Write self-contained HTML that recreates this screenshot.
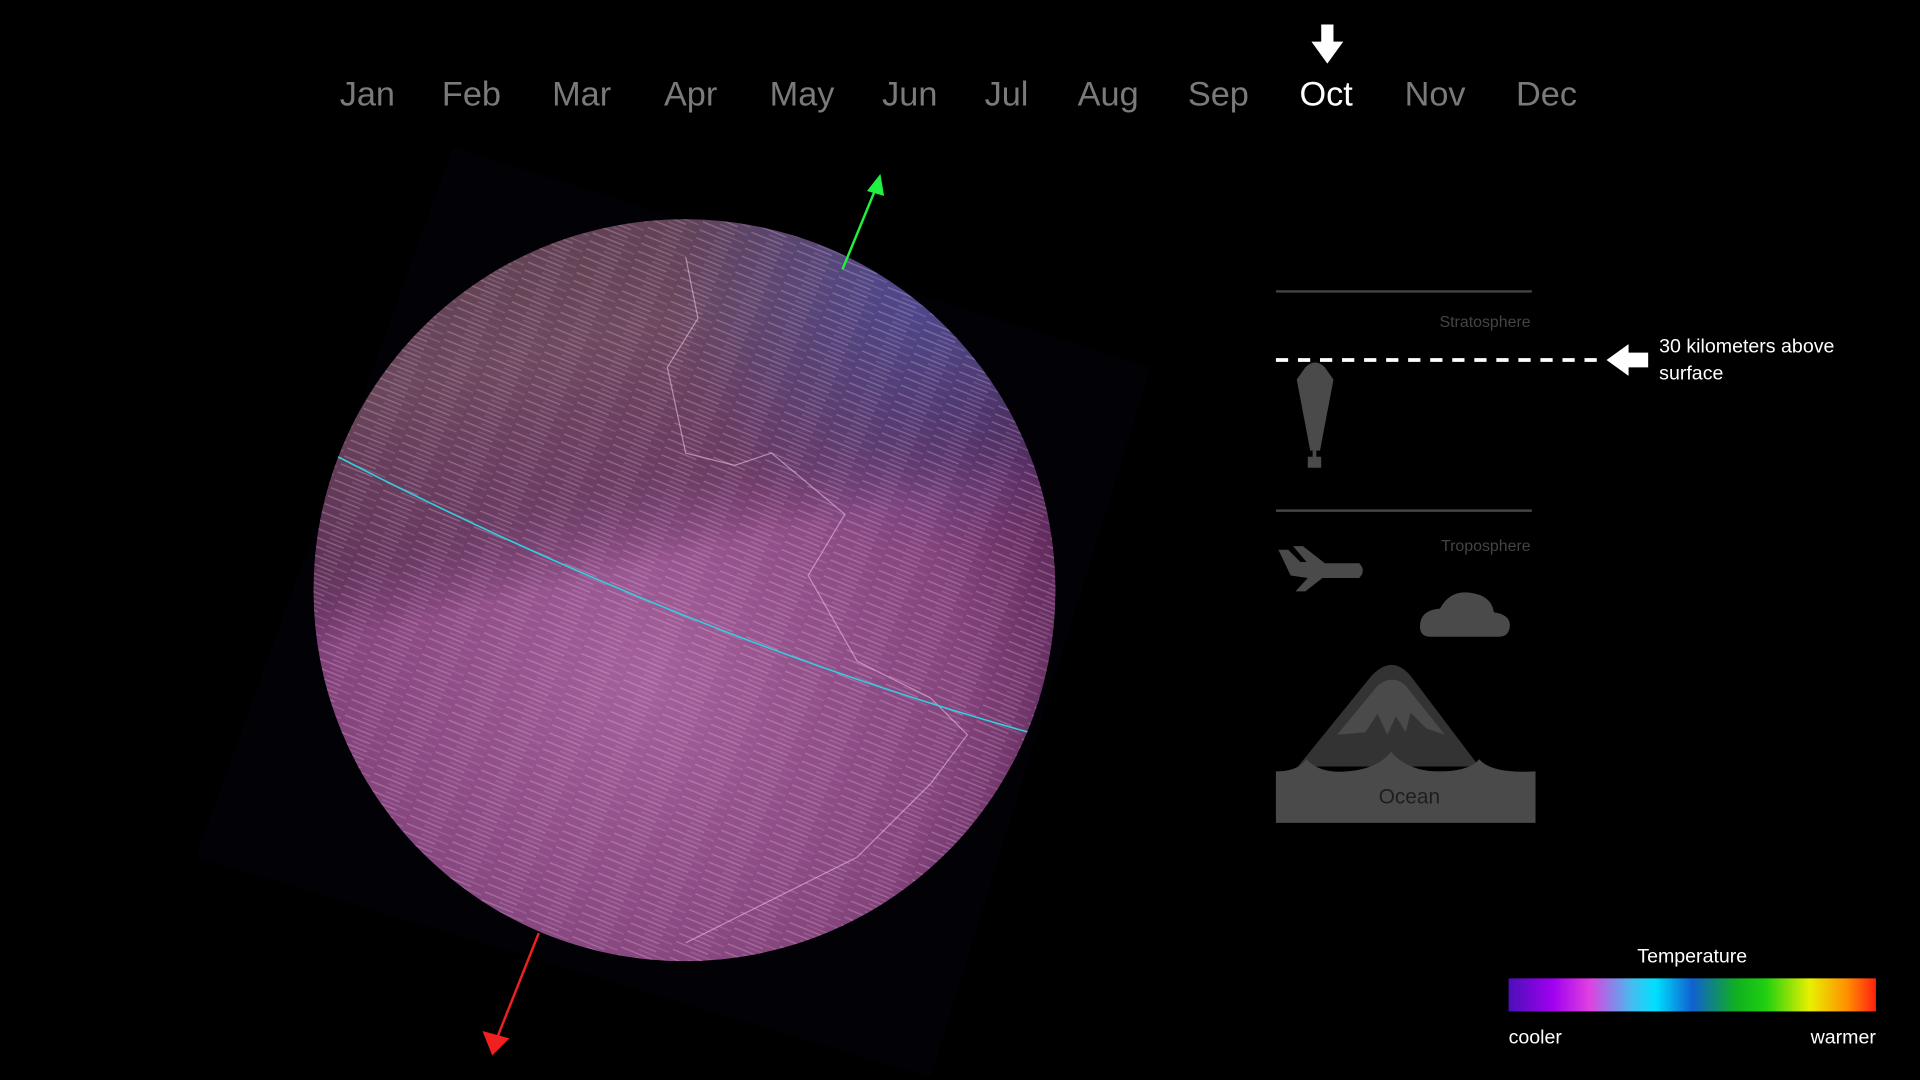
<!DOCTYPE html>
<html><head><meta charset="utf-8"><style>
html,body{margin:0;padding:0;background:#000;width:1920px;height:1080px;overflow:hidden}
svg{display:block}
text{font-family:"Liberation Sans",sans-serif}
</style></head><body>
<svg width="1920" height="1080" viewBox="0 0 1568 882" xmlns="http://www.w3.org/2000/svg">
<defs>
<radialGradient id="gb" cx="0.45" cy="0.62" r="0.6">
<stop offset="0" stop-color="#a5619c"/><stop offset="0.7" stop-color="#84447c"/><stop offset="1" stop-color="#5c2858"/>
</radialGradient>
<linearGradient id="band" x1="0" y1="0" x2="0.25" y2="1">
<stop offset="0" stop-color="#5e4650" stop-opacity="0.8"/>
<stop offset="0.25" stop-color="#6a5056" stop-opacity="0.7"/>
<stop offset="0.42" stop-color="#4a3040" stop-opacity="0.5"/>
<stop offset="0.55" stop-color="#000" stop-opacity="0"/>
<stop offset="1" stop-color="#000" stop-opacity="0"/>
</linearGradient>
<radialGradient id="blue" cx="0.82" cy="0.1" r="0.35">
<stop offset="0" stop-color="#4a4a98" stop-opacity="0.9"/><stop offset="1" stop-color="#4a4a98" stop-opacity="0"/>
</radialGradient>
<pattern id="streak" width="40" height="7" patternUnits="userSpaceOnUse" patternTransform="rotate(22)">
<line x1="0" y1="2" x2="28" y2="2" stroke="#f0c8ec" stroke-width="1" opacity="0.3"/>
<line x1="14" y1="5.5" x2="38" y2="5.5" stroke="#f0c8ec" stroke-width="1" opacity="0.2"/>
</pattern>
<linearGradient id="cbar" x1="0" x2="1">
<stop offset="0" stop-color="#4a10b8"/><stop offset="0.12" stop-color="#a000f0"/><stop offset="0.22" stop-color="#e040e0"/><stop offset="0.34" stop-color="#40c0f0"/><stop offset="0.4" stop-color="#00e0ff"/><stop offset="0.5" stop-color="#1060d0"/><stop offset="0.62" stop-color="#10b020"/><stop offset="0.7" stop-color="#20d010"/><stop offset="0.82" stop-color="#e8f000"/><stop offset="0.92" stop-color="#ff9000"/><stop offset="1" stop-color="#ff2010"/>
</linearGradient>
<clipPath id="gc"><circle cx="559" cy="482" r="303"/></clipPath>
</defs>
<polygon points="370,120 940,300 760,880 160,700" fill="#010106"/>
<g clip-path="url(#gc)">
<circle cx="559" cy="482" r="303" fill="url(#gb)"/>
<rect x="250" y="170" width="620" height="620" fill="url(#band)"/>
<rect x="250" y="170" width="620" height="620" fill="url(#blue)"/>
<rect x="250" y="170" width="620" height="620" fill="url(#streak)"/>
<path d="M560,210 L570,260 L545,300 L560,370 L600,380 L630,370 L690,420 L660,470 L700,540 L760,570 L790,600 L760,640 L700,700 L620,740 L560,770" fill="none" stroke="#e8c0e0" stroke-width="1" opacity="0.6"/>
<path d="M274,372 Q560,520 840,598" fill="none" stroke="#30d0e0" stroke-width="1.3"/>
</g>
<line x1="688" y1="220" x2="716" y2="152" stroke="#20f040" stroke-width="2"/>
<polygon points="719,142 708,156 722,160" fill="#20f040"/>
<line x1="440" y1="762" x2="405" y2="850" stroke="#f02020" stroke-width="2"/>
<polygon points="402,862 394,842 416,848" fill="#f02020"/>
<g font-size="28" text-anchor="middle" fill="#7a7a7a">
<text x="300" y="86">Jan</text>
<text x="385" y="86">Feb</text>
<text x="475" y="86">Mar</text>
<text x="564" y="86">Apr</text>
<text x="655" y="86">May</text>
<text x="743" y="86">Jun</text>
<text x="822" y="86">Jul</text>
<text x="905" y="86">Aug</text>
<text x="995" y="86">Sep</text>
<text x="1083" y="86" fill="#fff">Oct</text>
<text x="1172" y="86">Nov</text>
<text x="1263" y="86">Dec</text>
</g>
<polygon points="1079,20 1089,20 1089,34 1097,34 1084,52 1071,34 1079,34" fill="#fff"/>
<g>
<line x1="1042" y1="238" x2="1251" y2="238" stroke="#444" stroke-width="2"/>
<text x="1250" y="267" font-size="13" fill="#444" text-anchor="end">Stratosphere</text>
<line x1="1042" y1="294" x2="1305" y2="294" stroke="#fff" stroke-width="3" stroke-dasharray="10,8"/>
<polygon points="1312,294 1330,281 1330,288 1346,288 1346,300 1330,300 1330,307" fill="#fff"/>
<text x="1355" y="288" font-size="16" fill="#fff">30 kilometers above</text>
<text x="1355" y="310" font-size="16" fill="#fff">surface</text>
<path d="M1066,300 Q1074,292 1082,300 L1089,310 L1078,368 L1070,368 L1059,310 Z" fill="#4a4a4a"/>
<rect x="1072" y="368" width="3" height="6" fill="#4a4a4a"/><rect x="1068" y="373" width="11" height="9" fill="#4a4a4a"/>
<line x1="1042" y1="417" x2="1251" y2="417" stroke="#444" stroke-width="2"/>
<text x="1250" y="450" font-size="13" fill="#444" text-anchor="end">Troposphere</text>
<path d="M1044,449 L1052,449 L1062,459 L1067,459 L1056,446 L1064,446 L1082,460 L1110,460 Q1116,466 1110,472 L1080,472 L1066,483 L1058,483 L1068,472 L1054,470 Z" fill="#4a4a4a"/>
<path d="M1168,520 Q1158,520 1160,508 Q1162,498 1176,497 Q1184,482 1200,484 Q1218,486 1220,500 Q1234,502 1233,512 Q1232,520 1224,520 Z" fill="#4a4a4a"/>
<path d="M1060,626 L1120,552 Q1137,534 1152,552 L1208,626 Z" fill="#333"/>
<path d="M1092,600 L1125,560 Q1137,550 1148,560 L1180,600 L1165,595 L1152,582 L1148,598 L1140,585 L1133,600 L1125,583 L1115,598 Z" fill="#4a4a4a"/>
<path d="M1042,630 Q1060,630 1067,620 Q1078,632 1100,630 Q1125,628 1136,614 Q1150,630 1175,630 Q1200,630 1208,620 Q1218,632 1254,630 L1254,672 L1042,672 Z" fill="#4a4a4a"/>
<text x="1151" y="656" font-size="17" fill="#1e1e1e" text-anchor="middle">Ocean</text>
</g>
<g>
<text x="1382" y="786" font-size="16" fill="#fff" text-anchor="middle">Temperature</text>
<rect x="1232" y="799" width="300" height="27" fill="url(#cbar)"/>
<text x="1232" y="852" font-size="16" fill="#fff">cooler</text>
<text x="1532" y="852" font-size="16" fill="#fff" text-anchor="end">warmer</text>
</g>
</svg>
</body></html>
